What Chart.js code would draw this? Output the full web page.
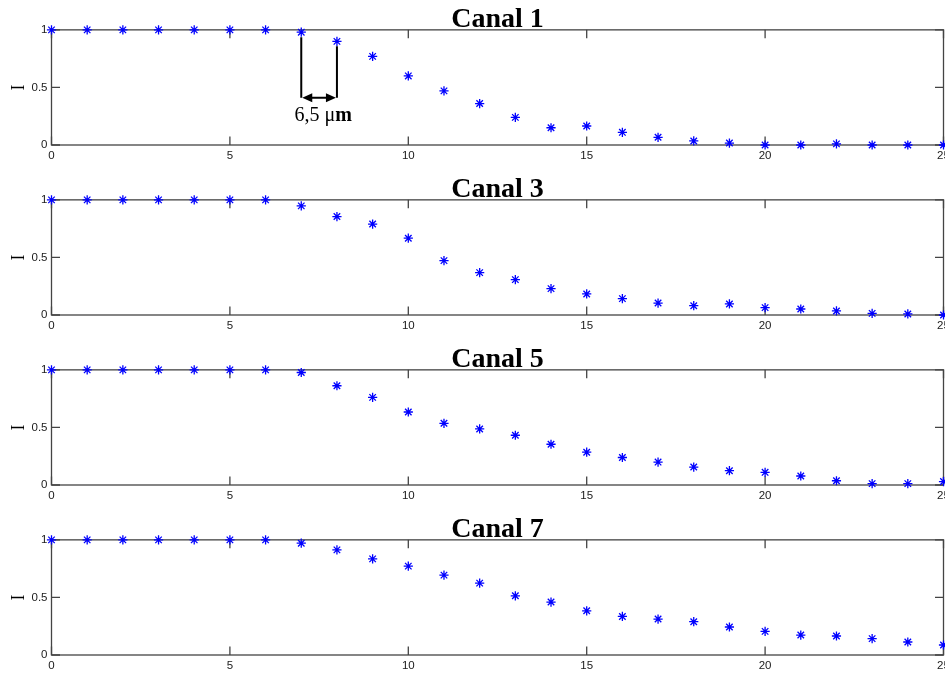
<!DOCTYPE html>
<html>
<head>
<meta charset="utf-8">
<script src="https://cdn.jsdelivr.net/npm/chart.js@4.4.1/dist/chart.umd.min.js"></script>
<style>
  html, body { margin: 0; padding: 0; background: #fff; overflow: hidden; }
  .panel { position: absolute; left: 0; width: 945px; height: 170px; }
</style>
</head>
<body>
<div class="panel" style="top:0px"><canvas id="canal1" width="945" height="170"></canvas></div>
<div class="panel" style="top:170px"><canvas id="canal3" width="945" height="170"></canvas></div>
<div class="panel" style="top:340px"><canvas id="canal5" width="945" height="170"></canvas></div>
<div class="panel" style="top:510px"><canvas id="canal7" width="945" height="170"></canvas></div>
<script>
// sample positions along the profile
const positions = [0, 1, 2, 3, 4, 5, 6, 7, 8, 9, 10, 11, 12, 13, 14, 15, 16, 17, 18, 19, 20, 21, 22, 23, 24, 25];
const xTicks = [0, 5, 10, 15, 20, 25];
const yTicks = [0, 0.5, 1];

// normalised intensity per channel
const canal1 = [1, 1, 1, 1, 1, 1, 1, 0.98, 0.90, 0.77, 0.60, 0.47, 0.36, 0.24, 0.15, 0.165, 0.11, 0.067, 0.035, 0.017, 0, 0, 0.01, 0, 0, 0];
const canal3 = [1, 1, 1, 1, 1, 1, 1, 0.948, 0.855, 0.79, 0.667, 0.472, 0.368, 0.307, 0.229, 0.183, 0.142, 0.104, 0.081, 0.096, 0.064, 0.052, 0.035, 0.014, 0.009, 0];
const canal5 = [1, 1, 1, 1, 1, 1, 1, 0.977, 0.862, 0.761, 0.634, 0.536, 0.487, 0.432, 0.354, 0.285, 0.239, 0.199, 0.156, 0.124, 0.11, 0.078, 0.037, 0.012, 0.012, 0.03];
const canal7 = [1, 1, 1, 1, 1, 1, 1, 0.971, 0.913, 0.835, 0.772, 0.694, 0.624, 0.514, 0.46, 0.384, 0.335, 0.312, 0.289, 0.243, 0.205, 0.173, 0.165, 0.142, 0.113, 0.087];

// spacing marker drawn on the first channel
const spanFrom = 7;
const spanTo = 8;
const spanLevel = 0.41;
const spanText = ['6,5 \u03bc', 'm'];

const tickColor = '#1a1a1a';
const frameColor = '#444444';

// MATLAB-like box with inward ticks on all four sides
const boxFrame = {
  id: 'boxFrame',
  beforeDatasetsDraw(chart) {
    const { ctx, chartArea: a, scales: { x, y } } = chart;
    const len = 8.5;
    ctx.save();
    ctx.strokeStyle = frameColor;
    ctx.lineWidth = 1.3;
    ctx.strokeRect(a.left, a.top, a.right - a.left, a.bottom - a.top);
    ctx.beginPath();
    x.ticks.forEach(t => {
      const px = x.getPixelForValue(t.value);
      ctx.moveTo(px, a.bottom); ctx.lineTo(px, a.bottom - len);
      ctx.moveTo(px, a.top); ctx.lineTo(px, a.top + len);
    });
    y.ticks.forEach(t => {
      const py = y.getPixelForValue(t.value);
      ctx.moveTo(a.left, py); ctx.lineTo(a.left + len, py);
      ctx.moveTo(a.right, py); ctx.lineTo(a.right - len, py);
    });
    ctx.stroke();
    ctx.restore();
  }
};

// double arrow between two samples with its label
const spanMarker = {
  id: 'spanMarker',
  afterDatasetsDraw(chart) {
    const { ctx, scales: { x, y } } = chart;
    const x1 = x.getPixelForValue(spanFrom);
    const x2 = x.getPixelForValue(spanTo);
    const ay = y.getPixelForValue(spanLevel);
    const t1 = y.getPixelForValue(canal1[spanFrom]) + 5;
    const t2 = y.getPixelForValue(canal1[spanTo]) + 5;
    const head = 10, half = 4.5;

    ctx.save();
    ctx.strokeStyle = '#000';
    ctx.fillStyle = '#000';
    ctx.lineWidth = 2;
    ctx.beginPath();
    ctx.moveTo(x1, t1); ctx.lineTo(x1, ay);
    ctx.moveTo(x2, t2); ctx.lineTo(x2, ay);
    ctx.moveTo(x1 + head, ay); ctx.lineTo(x2 - head, ay);
    ctx.stroke();

    ctx.beginPath();
    ctx.moveTo(x1 + 1, ay); ctx.lineTo(x1 + head + 1, ay - half); ctx.lineTo(x1 + head + 1, ay + half);
    ctx.closePath();
    ctx.moveTo(x2 - 1, ay); ctx.lineTo(x2 - head - 1, ay - half); ctx.lineTo(x2 - head - 1, ay + half);
    ctx.closePath();
    ctx.fill();

    const normal = '20px "Liberation Serif"';
    const bold = 'bold 20px "Liberation Serif"';
    ctx.font = normal;
    const w1 = ctx.measureText(spanText[0]).width;
    ctx.font = bold;
    const w2 = ctx.measureText(spanText[1]).width;
    const tx = (x1 + x2) / 2 - (w1 + w2) / 2 + 4;
    const ty = ay + 23.5;
    ctx.textBaseline = 'alphabetic';
    ctx.textAlign = 'left';
    ctx.font = normal;
    ctx.fillText(spanText[0], tx, ty);
    ctx.font = bold;
    ctx.fillText(spanText[1], tx + w1, ty);
    ctx.restore();
  }
};

function makePanel(id, title, values, extra) {
  const points = positions.map((p, i) => ({ x: p, y: values[i] }));
  return new Chart(document.getElementById(id), {
    type: 'scatter',
    data: {
      datasets: [{
        data: points,
        showLine: false,
        clip: false,
        pointStyle: 'star',
        pointRadius: 4.6,
        pointBorderWidth: 1.3,
        pointBorderColor: '#0000ff',
        pointBackgroundColor: '#0000ff'
      }]
    },
    options: {
      responsive: false,
      animation: false,
      events: [],
      layout: { autoPadding: false, padding: { top: 11, right: 1.5, bottom: 2, left: 0 } },
      plugins: {
        legend: { display: false },
        tooltip: { enabled: false },
        title: {
          display: true,
          text: title,
          fullSize: false,
          color: '#000',
          font: { family: '"Liberation Serif"', size: 28, weight: 'bold', lineHeight: 0.62 },
          padding: { top: 0, bottom: 1.5 }
        }
      },
      scales: {
        x: {
          type: 'linear',
          min: 0,
          max: 25,
          afterBuildTicks: s => { s.ticks = xTicks.map(v => ({ value: v })); },
          afterFit: s => { s.height = 23; s.paddingLeft = 0; s.paddingRight = 0; },
          grid: { display: false, drawTicks: false },
          border: { display: false },
          ticks: {
            padding: 4,
            color: tickColor,
            maxRotation: 0,
            autoSkip: false,
            font: { family: '"Liberation Sans"', size: 11.5 }
          }
        },
        y: {
          min: 0,
          max: 1,
          afterBuildTicks: s => { s.ticks = yTicks.map(v => ({ value: v })); },
          afterFit: s => { s.width = 51.5; s.paddingTop = 0; s.paddingBottom = 0; },
          grid: { display: false, drawTicks: false },
          border: { display: false },
          title: {
            display: true,
            text: 'I',
            color: '#000',
            font: { family: '"Liberation Serif"', size: 18 },
            padding: { top: 8, bottom: 0 }
          },
          ticks: {
            padding: 4,
            color: tickColor,
            font: { family: '"Liberation Sans"', size: 11.5 },
            callback: v => String(v)
          }
        }
      }
    },
    plugins: [boxFrame].concat(extra || [])
  });
}

makePanel('canal1', 'Canal 1', canal1, [spanMarker]);
makePanel('canal3', 'Canal 3', canal3);
makePanel('canal5', 'Canal 5', canal5);
makePanel('canal7', 'Canal 7', canal7);
</script>
</body>
</html>
